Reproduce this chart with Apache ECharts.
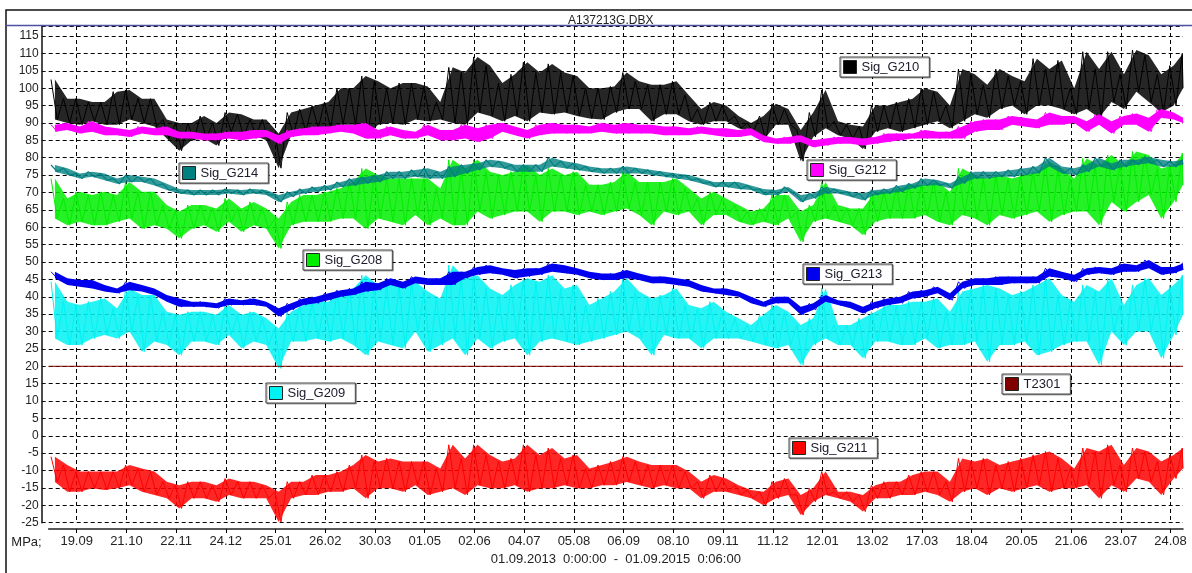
<!DOCTYPE html>
<html>
<head>
<meta charset="utf-8">
<title>A137213G.DBX</title>
<script src="https://cdn.jsdelivr.net/npm/echarts@6/dist/echarts.min.js"></script>
<style>
  html, body { margin: 0; padding: 0; background: #fff; }
  #chart { width: 1192px; height: 573px; }
</style>
</head>
<body>
<div id="chart"></div>
<script>
// Recording window of the strain-gauge export and its date ticks
const fileTitle = 'A137213G.DBX';
const unitLabel = 'MPa;';
const periodLabel = '01.09.2013  0:00:00  -  01.09.2015  0:06:00';
const tickDates = ['19.09.2013', '21.10.2013', '22.11.2013', '24.12.2013', '25.01.2014', '26.02.2014',
  '30.03.2014', '01.05.2014', '02.06.2014', '04.07.2014', '05.08.2014', '06.09.2014', '08.10.2014',
  '09.11.2014', '11.12.2014', '12.01.2015', '13.02.2015', '17.03.2015', '18.04.2015', '20.05.2015',
  '21.06.2015', '23.07.2015', '24.08.2015'];

// Each channel is stored as 8-day blocks: highest and lowest reading in every block
const binDays = 8;

const g210Hi = [102.5, 97, 97, 96, 96, 99, 99.5, 97, 97, 91, 90, 90, 92, 90, 93,
  92.5, 91, 91, 87, 93, 94, 95, 96, 100, 100, 103.5, 102, 100, 101.5, 101.5,
  100.5, 96, 106, 104.5, 109, 106.5, 101.5, 104, 107.5, 104.5, 107, 104.5, 103.5, 100, 100, 100.5,
  104.5, 102, 101, 101, 102, 98, 94, 96, 95, 92, 90, 92, 95.5, 94, 88,
  93, 99.5, 90.5, 89.5, 89, 95, 95, 96, 97, 100, 99, 95, 105.5, 104, 101,
  105.5, 103.5, 102, 108.5, 105.5, 108, 100, 110.5, 105.5, 110.5, 104, 111, 109.5, 104, 106.5, 110];
const g210Lo = [91, 90, 89.5, 90.5, 89.5, 89.5, 91, 90, 89, 85.5, 82, 85, 85.5, 83.5, 87.5,
  86, 86.5, 85, 77, 86.5, 87.5, 88.5, 88.5, 89.5, 89.5, 86, 89.5, 90, 89.5, 91,
  90.5, 91, 90, 89.5, 93, 92, 90.5, 92, 90.5, 93, 92.5, 93, 92, 91.3, 91, 93,
  94, 94, 90.5, 92.5, 92.5, 90.5, 89.5, 90.5, 90.5, 88.5, 87.5, 85, 89.5, 89.5, 79,
  86, 88.5, 86.5, 85.5, 82.5, 87.5, 88.5, 87.5, 88.5, 89.5, 90.5, 88.5, 90.5, 92.5, 91.5,
  94, 95, 92.5, 95, 95, 94, 92.5, 94, 91.5, 96, 94, 99, 96, 93, 95, 100];

const g212Hi = [89.5, 90, 89, 90.5, 89, 88.5, 88, 89, 88.5, 89, 87.5, 87.5, 87, 87, 87.5,
  87.5, 88, 88, 86.5, 88, 88.5, 89, 89, 89.5, 89.5, 90, 88, 89, 88, 87.5,
  89.5, 88, 88, 89.5, 88.5, 89.5, 90, 89, 88, 89.5, 90, 89.5, 89.5, 89, 90, 89.5,
  90, 89.5, 89.5, 89, 89, 88.5, 89, 88.5, 88.5, 88, 88.5, 86.5, 85.5, 86, 86.5,
  85, 85.5, 86, 86, 85.5, 86, 87, 87, 87, 88, 87.5, 87.5, 89, 90.5, 91,
  91, 92, 91.5, 91, 93, 92, 92, 90.5, 92.5, 90.5, 92, 92.7, 91.5, 94, 93, 91.5];
const g212Lo = [87.5, 88, 87, 87.5, 86.5, 86.5, 86, 87, 86.5, 86.5, 85.5, 85.5, 85, 85, 85.5,
  85, 85.5, 86, 84, 86, 86.5, 86.5, 87, 87.5, 87, 85.5, 85.5, 86.5, 85.5, 85.5,
  86.5, 85, 85, 85.5, 84.5, 85.5, 87.5, 86.5, 85.5, 86.5, 87, 87, 87, 87, 87.5, 87,
  87, 87, 87, 86.5, 86.5, 86.5, 87, 86.5, 86, 86, 86.5, 84.5, 84, 84, 84.5,
  83, 83.5, 84, 84, 83.5, 84, 84.5, 85, 85.5, 85.5, 85.5, 85.5, 85.5, 87.5, 88,
  88, 89.5, 89, 88.5, 89.5, 89.5, 90, 87.5, 89.5, 87, 89.5, 89.5, 87.5, 91.5, 91, 90];

const g214Hi = [77.9, 77, 75.5, 76, 75.5, 74, 75, 74.5, 74, 72.5, 71, 70.7, 70.7, 70.7, 71,
  70.7, 71, 70.7, 69.3, 70.2, 71, 71.6, 72, 73, 74, 74.5, 75, 76, 76, 76.5,
  77, 76, 77.5, 78, 78.4, 79.4, 79, 78, 78, 78, 80, 79, 78.4, 77.5, 77, 77,
  77.5, 77, 76.5, 76, 75.5, 75, 74, 73, 73, 73, 72, 71, 70.7, 71.6, 69.3,
  69.8, 71.6, 71, 70.2, 69.8, 70.7, 71, 72, 72.6, 74, 73.6, 72.6, 74.5, 76, 76,
  76, 76.5, 77, 77.5, 80, 77.5, 77, 78, 80, 78.4, 79.4, 79.4, 80.3, 79.4, 79, 79.4];
const g214Lo = [76, 75, 74, 74.5, 73.5, 72.5, 73, 73, 72, 70.7, 69.7, 69.3, 69.3, 69.3, 69.7,
  69.3, 69.7, 69.3, 67.3, 68.8, 69.7, 70.2, 70.7, 71.6, 72, 72.6, 73, 74, 74, 74.5,
  74, 74, 74.5, 75.5, 76.5, 77.4, 77, 76, 76, 76, 77.5, 77, 76.5, 76, 75.5, 75.5,
  75.5, 75.5, 75, 74.5, 74, 73.5, 72.6, 71.6, 71.6, 71, 70.7, 69.3, 69.3, 70.2, 67.3,
  68.3, 69.7, 69.7, 68.8, 67.8, 69.3, 69.7, 70.2, 71.2, 72, 72.1, 71.2, 72.6, 74, 74,
  74.5, 74.5, 75, 75.5, 77.5, 75.5, 75, 76, 77.5, 76.5, 77.4, 78, 78.4, 77.4, 77.4, 78];

const g208Hi = [74, 68.3, 70.2, 69.3, 70.2, 69.3, 73, 70.2, 70.2, 66.4, 64.5, 66.4, 66.4, 65.4, 68.3,
  65.4, 67.3, 65.4, 62.5, 67.3, 69.3, 69.3, 70.2, 71.2, 73, 76.9, 75, 74, 74, 74,
  74, 71.2, 79.4, 76.9, 79.4, 76, 75, 76, 77.9, 75, 76.9, 75, 76, 72.2, 72.2, 73,
  76, 73, 73, 73, 74, 71.2, 68.3, 70.2, 68.3, 66.4, 64.5, 65.4, 69.3, 69.3, 64.5,
  66.4, 73, 66.4, 65.4, 65.4, 70.2, 70.2, 71.2, 72.2, 72.2, 73, 70.2, 76.9, 75, 74,
  75, 74, 75, 76, 78.8, 76.9, 74, 79.8, 77.9, 80.8, 77.9, 81.8, 80.8, 76.9, 77.9, 81.3];
const g208Lo = [62.5, 60.6, 61.6, 60.6, 60.6, 61.6, 62.5, 59.6, 60.6, 59.6, 56.8, 59.6, 60.6, 58.7, 61.6,
  58.7, 60.6, 59.6, 53.9, 60.6, 61.6, 61.6, 61.6, 62.5, 62.5, 59.6, 62.5, 61.6, 60.6, 63.5,
  60.6, 62.5, 60.6, 60.6, 64.5, 62.5, 63.5, 64.5, 64.5, 61.6, 64.5, 64.5, 63.5, 64.5, 63.5, 64.5,
  65.4, 63.5, 60.6, 64.5, 63.5, 64.5, 60.6, 63.5, 63.5, 61.6, 60.6, 61.6, 60.6, 62.5, 55.8,
  61.6, 62.5, 61.6, 60.6, 57.8, 61.6, 62.5, 62.5, 62.5, 63.5, 61.6, 60.6, 63.5, 62.5, 60.6,
  63.5, 62.5, 63.5, 64.5, 61.6, 63.5, 64.5, 64.5, 60.6, 67.3, 64.5, 67.3, 69.3, 62.5, 67.3, 72.2];

const g213Hi = [47.2, 45.3, 44.8, 44.8, 43.4, 42.4, 44.3, 43.4, 42.4, 40.5, 39.5, 38.6, 38.6, 38.1, 39.5,
  39, 39.5, 38.6, 36.7, 38.1, 39.5, 40, 41, 41.9, 42.4, 44.3, 43.9, 45.3, 44.3, 45.8,
  45.3, 45.3, 47.2, 47.2, 48.6, 49.1, 48.2, 47.7, 48.2, 48.2, 49.6, 49.1, 48.2, 47.2, 46.7, 46.7,
  47.7, 46.7, 45.8, 45.8, 45.3, 44.8, 43.4, 42.4, 42.4, 41.5, 40, 38.6, 40, 40, 37.1,
  38.1, 40.5, 39, 38.6, 37.1, 38.6, 39.5, 40, 41.5, 41.9, 42.9, 41, 44.3, 45.3, 45.3,
  45.8, 45.8, 45.8, 45.8, 48.2, 47.2, 46.3, 48.2, 48.6, 48.2, 49.6, 49.1, 50.6, 48.6, 48.6, 49.6];
const g213Lo = [45.3, 43.4, 42.9, 42.4, 41.5, 41, 41.9, 41.5, 40.5, 38.6, 37.1, 37.1, 37.1, 36.7, 37.6,
  37.6, 37.6, 37.1, 34.3, 36.2, 37.6, 38.1, 39, 40, 40.5, 41.5, 41.9, 43.4, 42.4, 43.9,
  43.4, 43.4, 43.4, 45.3, 46.3, 46.8, 46.3, 45.3, 45.8, 46.3, 47.2, 46.8, 46.3, 45.3, 44.8, 44.8,
  45.3, 44.8, 43.9, 43.9, 43.4, 42.9, 41.5, 41, 40.5, 40, 38.1, 37.1, 38.1, 38.1, 34.8,
  36.2, 38.6, 37.6, 36.7, 35.2, 36.7, 37.6, 38.1, 39.5, 40, 41, 39, 42.4, 43.4, 43.4,
  43.4, 43.9, 43.9, 43.9, 45.8, 45.3, 44.3, 46.3, 46.8, 46.3, 47.2, 47.2, 48.2, 46.3, 46.8, 47.7];

const g209Hi = [44.3, 38.6, 37.6, 38.6, 39.5, 36.7, 42.4, 40.5, 40.5, 35.7, 34.8, 35.7, 35.7, 34.8, 37.6,
  34.8, 35.7, 33.8, 30.9, 35.7, 37.6, 38.6, 38.6, 41.5, 42.4, 46.2, 43.4, 43.4, 43.4, 44.3,
  41.5, 39.5, 49.1, 45.3, 46.2, 42.4, 40.5, 43.4, 45.3, 44.3, 46.2, 42.4, 43.4, 37.6, 39.5, 41.5,
  45.3, 41.5, 39.5, 40.5, 42.4, 37.6, 36.7, 38.6, 35.7, 33.8, 31.9, 34.8, 37.6, 35.7, 31.9,
  33.8, 42.4, 31.9, 31.9, 33.8, 35.7, 37.6, 37.6, 38.6, 38.6, 39.5, 35.7, 41.5, 42.4, 43.4,
  42.4, 40.5, 41.5, 43.4, 45.3, 40.5, 38.6, 43.4, 41.5, 45.3, 37.6, 43.4, 45.3, 40.5, 43.4, 46.2];
const g209Lo = [28, 26.1, 26.1, 28, 29, 28, 30, 24.2, 27.1, 26.1, 23.2, 27.1, 27.1, 26.1, 29,
  25.2, 27.1, 26.1, 19.4, 27.1, 27.1, 28, 27.1, 28, 26.1, 23.2, 27.1, 26.1, 25.2, 30,
  24.2, 26.1, 28, 23.2, 28, 25.2, 27.1, 28, 23.2, 27.1, 28, 27.1, 26.1, 27.1, 28, 29,
  30, 28, 23.2, 29, 28, 28, 25.2, 28, 28, 28, 27.1, 26.1, 25.2, 26.1, 20.4,
  26.1, 28, 26.1, 26.1, 22.3, 27.1, 27.1, 26.1, 26.1, 28, 25.2, 26.1, 26.1, 27.1, 21.3,
  26.1, 26.1, 27.1, 23.2, 24.2, 26.1, 27.1, 27.1, 20.4, 30, 26.1, 30, 30, 22.3, 29, 34.8];

const g211Hi = [-6, -8.4, -10.3, -10.3, -10.3, -10.3, -8.4, -9.4, -10.3, -13.2, -14.2, -13.2, -13.2, -14.2, -12.3,
  -13.2, -13.2, -14.2, -16.1, -13.2, -13.2, -11.3, -11.3, -10.3, -8.4, -5.5, -7.4, -6.5, -7.4, -7.4,
  -7.4, -9.4, -2.6, -6.5, -2.6, -5.5, -7.4, -6.5, -2.6, -5.5, -3.5, -6.5, -5.5, -9.4, -8.4, -7.4,
  -6, -7.4, -8.4, -8.4, -8.4, -10.3, -13.2, -11.3, -12.3, -14.2, -15.6, -16.1, -13.2, -12.3, -17,
  -15.1, -10.3, -16.1, -16.1, -17, -14.2, -13.2, -13.2, -11.3, -10.3, -10.3, -13.2, -6.5, -7.4, -6.5,
  -8.4, -7.4, -6.5, -5.5, -4.5, -6.5, -9.4, -3.5, -4.5, -2.6, -8.4, -3.5, -4.5, -7.4, -5.5, -3.5];
const g211Lo = [-13.3, -16.1, -16.1, -15.1, -15.6, -15.1, -14.2, -16.1, -17, -18, -20.9, -18, -18, -19, -17,
  -18, -18, -18, -24.8, -18, -17, -17, -16.1, -16.1, -15.1, -18, -15.1, -15.1, -16.1, -14.2,
  -17, -16.1, -15.1, -17, -14.2, -15.1, -15.1, -14.2, -16.1, -15.1, -15.1, -14.2, -15.1, -15.1, -14.2, -14.2,
  -13.3, -14.2, -15.1, -14.2, -15.1, -15.1, -18, -16.1, -16.1, -17, -18, -20, -18, -17, -22.8,
  -19, -17, -18, -19, -21.8, -18, -18, -17, -17, -16.1, -17, -19, -16.1, -15.1, -17,
  -15.1, -16.1, -15.1, -14.2, -16.1, -15.1, -15.1, -14.2, -18, -14.2, -16.1, -12.3, -13.2, -17, -12.3, -9.4];

// Temperature channel held at a fixed level for the whole period
const t2301 = [20, 20];

const DAY = 86400000;
const FONT = 'Arial, "Liberation Sans", sans-serif';

function parseDMY(s) {
  const [d, m, y] = s.split('.').map(Number);
  return new Date(y, m - 1, d).getTime();
}
const tStart = new Date(2013, 8, 1, 0, 0, 0).getTime();
const tEnd = new Date(2015, 8, 1, 0, 6, 0).getTime();
const tickTimes = tickDates.map(parseDMY);

const binTime = (k, offsetDays) => Math.min(tStart + (k * binDays + offsetDays) * DAY, tEnd);

// Block maximum then block minimum, in time order, so the trace keeps its spread
function blockTrace(hi, lo) {
  const out = [];
  for (let k = 0; k < hi.length; k++) {
    out.push([binTime(k, 1.5), hi[k]]);
    out.push([binTime(k, 5.5), lo[k]]);
  }
  return out;
}

const pad2 = n => (n < 10 ? '0' : '') + n;

// One channel: shaded min..max envelope drawn as a single polygon, with the block trace on top
function channel(name, color, hi, lo, opts) {
  const envelope = {
    name: name + ' envelope', type: 'custom', coordinateSystem: 'cartesian2d',
    z: opts.z, silent: true, animation: false,
    data: hi.map((v, k) => [binTime(k, 4), v, lo[k]]),
    encode: { x: 0, y: [1, 2] },
    renderItem: (params, api) => {
      if (params.dataIndex !== 0) return null;
      const top = hi.map((v, k) => api.coord([binTime(k, 4), v]));
      const bottom = lo.map((v, k) => api.coord([binTime(k, 4), v])).reverse();
      return {
        type: 'polygon',
        shape: { points: top.concat(bottom) },
        style: { fill: color, opacity: opts.fill }
      };
    }
  };
  const line = {
    name, type: 'line', data: blockTrace(hi, lo), z: opts.z,
    symbol: 'none', showSymbol: false, silent: true, animation: false,
    lineStyle: { color, width: opts.width },
    itemStyle: { color }
  };
  return [envelope, line];
}

function legendBox(name, left, top) {
  return {
    data: [{ name, icon: 'rect', itemStyle: { borderColor: '#222', borderWidth: 1 } }],
    left, top, selectedMode: false,
    padding: [3, 10, 3, 3], itemWidth: 13, itemHeight: 13,
    backgroundColor: '#fff', borderColor: '#444', borderWidth: 1,
    shadowColor: 'rgba(0,0,0,0.35)', shadowOffsetX: 1, shadowOffsetY: 1, shadowBlur: 0,
    textStyle: { fontSize: 13, color: '#1a1a2a', fontFamily: FONT }
  };
}

const chart = echarts.init(document.getElementById('chart'), null, { renderer: 'canvas' });

chart.setOption({
  animation: false,
  backgroundColor: '#fff',
  title: {
    text: fileTitle, left: 563, top: 10,
    textStyle: { fontSize: 12, fontWeight: 'normal', color: '#222', fontFamily: FONT }
  },
  graphic: [
    { type: 'rect', silent: true, z: 0, shape: { x: 6, y: 10, width: 1200, height: 600 },
      style: { fill: 'none', stroke: '#111', lineWidth: 1.5 } },
    { type: 'line', silent: true, z: 50, shape: { x1: 6, y1: 25.5, x2: 1192, y2: 25.5 },
      style: { stroke: '#5050a4', lineWidth: 1.5 } }
  ],
  grid: { left: 48.7, right: 9, top: 26, bottom: 50.3, containLabel: false },
  legend: [
    legendBox('Sig_G210', 840, 57),
    legendBox('Sig_G212', 807, 160),
    legendBox('Sig_G214', 179, 163),
    legendBox('Sig_G208', 303, 250),
    legendBox('Sig_G213', 803, 264),
    legendBox('Sig_G209', 266, 383),
    legendBox('T2301', 1002, 374),
    legendBox('Sig_G211', 789, 438)
  ],
  xAxis: {
    type: 'value', min: tStart, max: tEnd, offset: 6.3,
    name: periodLabel, nameLocation: 'middle', nameGap: 24,
    nameTextStyle: { fontSize: 13, color: '#222', fontFamily: FONT },
    axisLine: { show: true, onZero: false, lineStyle: { color: '#222', width: 1.5 } },
    axisTick: { show: true, customValues: tickTimes, length: 4, lineStyle: { color: '#000' } },
    axisLabel: {
      customValues: tickTimes, margin: 6, fontSize: 13, color: '#222', fontFamily: FONT,
      formatter: v => { const d = new Date(v); return pad2(d.getDate()) + '.' + pad2(d.getMonth() + 1); }
    },
    splitLine: { show: true, lineStyle: { color: '#000', width: 1, type: [4, 3] } }
  },
  yAxis: {
    type: 'value', min: -25, max: 117.9, interval: 5, offset: 7,
    name: unitLabel, nameLocation: 'start', nameGap: 13,
    nameTextStyle: { fontSize: 13, color: '#222', fontFamily: FONT, align: 'right' },
    axisLine: { show: true, lineStyle: { color: '#111', width: 1.5 } },
    axisTick: { show: true, inside: true, length: 4, lineStyle: { color: '#111' } },
    axisLabel: {
      margin: 3, fontSize: 12, color: '#222', fontFamily: FONT,
      formatter: v => (Math.abs(v % 5) < 1e-9 ? String(v) : '')
    },
    splitLine: { show: true, lineStyle: { color: '#000', width: 1, type: [4, 3] } }
  },
  series: [].concat(
    channel('Sig_G208', '#00ee00', g208Hi, g208Lo, { z: 2, fill: 0.85, width: 1 }),
    channel('Sig_G214', '#008080', g214Hi, g214Lo, { z: 3, fill: 0.8, width: 1.2 }),
    channel('Sig_G209', '#00f2f2', g209Hi, g209Lo, { z: 2, fill: 0.85, width: 1 }),
    channel('Sig_G213', '#0000ee', g213Hi, g213Lo, { z: 3, fill: 1, width: 1 }),
    channel('Sig_G210', '#000000', g210Hi, g210Lo, { z: 2, fill: 0.85, width: 1 }),
    channel('Sig_G212', '#ff00ff', g212Hi, g212Lo, { z: 3, fill: 1, width: 1 }),
    [{
      name: 'T2301', type: 'line', z: 4, symbol: 'none', showSymbol: false, silent: true, animation: false,
      data: [[tStart, t2301[0]], [tEnd, t2301[1]]],
      lineStyle: { color: '#800000', width: 1 }, itemStyle: { color: '#800000' }
    }],
    channel('Sig_G211', '#ff0000', g211Hi, g211Lo, { z: 2, fill: 0.85, width: 1 })
  )
});
</script>
</body>
</html>
